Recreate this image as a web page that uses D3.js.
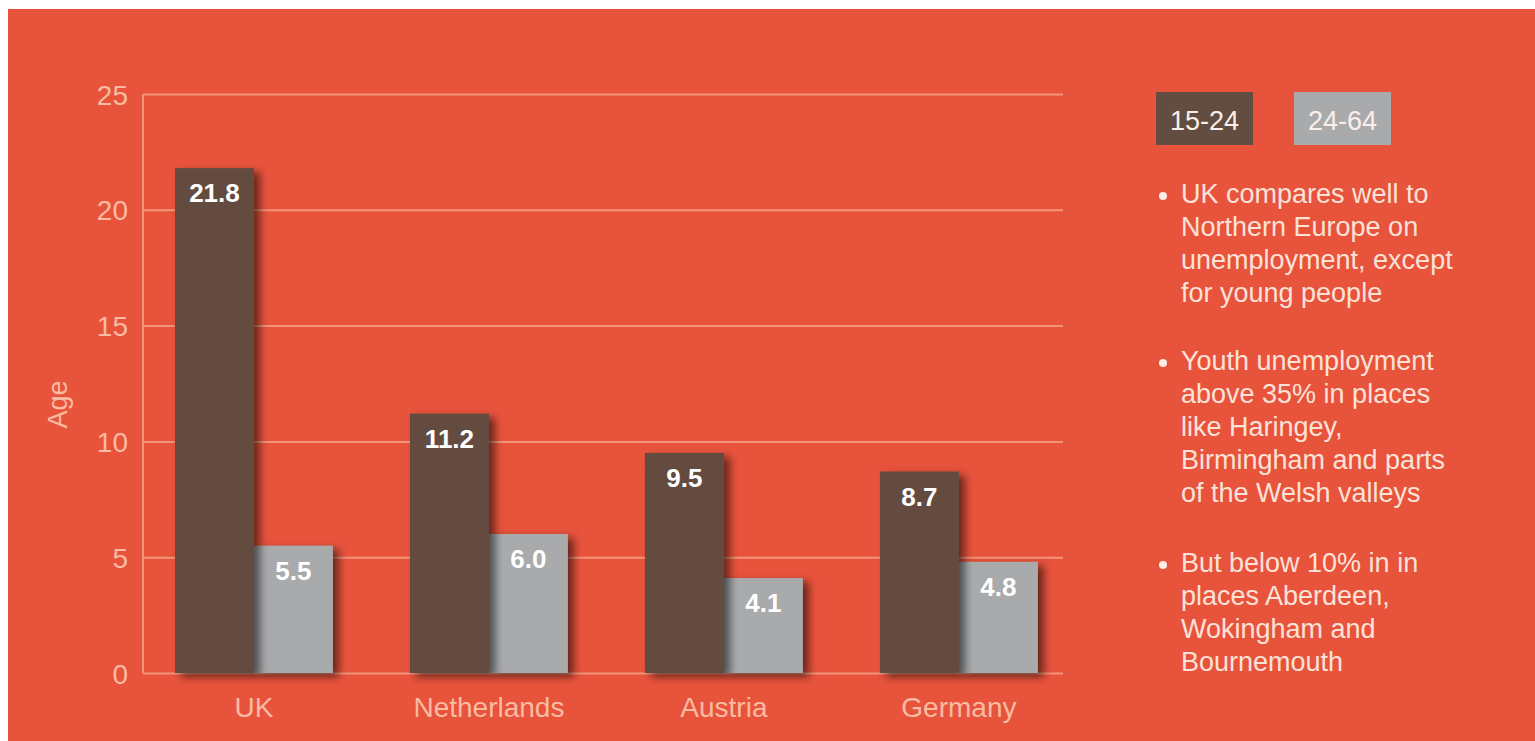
<!DOCTYPE html>
<html>
<head>
<meta charset="utf-8">
<script src="https://cdn.jsdelivr.net/npm/d3@7"></script>
<style>
  html, body { margin: 0; padding: 0; background: #fff; }
  svg { display: block; font-family: "Liberation Sans", Arial, Helvetica, sans-serif; }
</style>
</head>
<body>
<div id="chart"></div>
<script>
const countries = ['UK', 'Netherlands', 'Austria', 'Germany'];
const ages = ['15-24', '24-64'];
const youth = [21.8, 11.2, 9.5, 8.7];
const adult = [5.5, 6.0, 4.1, 4.8];
const yTicks = [0, 5, 10, 15, 20, 25];
const yLabel = 'Age';
const notes = [
  ['UK compares well to', 'Northern Europe on', 'unemployment, except', 'for young people'],
  ['Youth unemployment', 'above 35% in places', 'like Haringey,', 'Birmingham and parts', 'of the Welsh valleys'],
  ['But below 10% in in', 'places Aberdeen,', 'Wokingham and', 'Bournemouth']
];

const W = 1535, H = 741;
const margin = { top: 94, left: 143 };
const width = 920, height = 579;

const bg = '#e8533c';
const grid = '#f29479';
const tickCol = '#f9bba2';
const color = d3.scaleOrdinal().domain(ages).range(['#634c40', '#a9aaac']);

const svg = d3.select('#chart').append('svg')
  .attr('width', W).attr('height', H);

const defs = svg.append('defs');
const f = defs.append('filter').attr('id', 'shadow')
  .attr('x', '-20%').attr('y', '-10%').attr('width', '150%').attr('height', '130%');
f.append('feDropShadow').attr('dx', 6).attr('dy', 4).attr('stdDeviation', 4.5)
  .attr('flood-color', '#000').attr('flood-opacity', 0.55);

svg.append('rect').attr('x', 8).attr('y', 9).attr('width', W - 8).attr('height', H - 9).attr('fill', bg);

const g = svg.append('g').attr('transform', 'translate(' + margin.left + ',' + margin.top + ')');

const y = d3.scaleLinear().domain([0, 25]).range([height, 0]);
const x0 = d3.scaleBand().domain(countries).range([0, width])
  .paddingInner(0.328).paddingOuter(0.1215).align(0.56);
const x1 = d3.scaleBand().domain(ages).range([0, x0.bandwidth()]);

// grid + y axis
const yAxis = g.append('g').attr('class', 'y axis')
  .call(d3.axisLeft(y).tickValues(yTicks).tickSize(-width).tickPadding(15));
yAxis.select('.domain').remove();
yAxis.selectAll('.tick line').attr('stroke', grid).attr('stroke-width', 2);
yAxis.selectAll('.tick text').attr('fill', tickCol).attr('font-size', 28).attr('dy', '0.36em');
g.append('line').attr('x1', 0).attr('x2', 0).attr('y1', 0).attr('y2', height)
  .attr('stroke', grid).attr('stroke-width', 2);

g.append('text')
  .attr('transform', 'translate(-76,' + (height / 2 + 21) + ') rotate(-90)')
  .attr('text-anchor', 'middle')
  .attr('fill', tickCol).attr('font-size', 27)
  .text(yLabel);

// bars
const rows = countries.map(function (c, i) {
  return { country: c, values: [{ age: ages[0], v: youth[i] }, { age: ages[1], v: adult[i] }] };
});

const groups = g.selectAll('.country').data(rows).enter().append('g')
  .attr('class', 'country')
  .attr('transform', function (d) { return 'translate(' + x0(d.country) + ',0)'; });

// grey first so the dark bar's shadow falls on it
groups.each(function (d) {
  const sel = d3.select(this);
  const ordered = [d.values[1], d.values[0]];
  sel.selectAll('rect').data(ordered).enter().append('rect')
    .attr('x', function (e) { return x1(e.age); })
    .attr('y', function (e) { return y(e.v); })
    .attr('width', x1.bandwidth())
    .attr('height', function (e) { return height - y(e.v); })
    .attr('fill', function (e) { return color(e.age); })
    .attr('filter', 'url(#shadow)');
  sel.selectAll('.val').data(d.values).enter().append('text')
    .attr('class', 'val')
    .attr('x', function (e) { return x1(e.age) + x1.bandwidth() / 2; })
    .attr('y', function (e) { return y(e.v) + 34; })
    .attr('text-anchor', 'middle')
    .attr('fill', '#fff').attr('font-weight', 'bold').attr('font-size', 26)
    .text(function (e) { return e.v.toFixed(1); });
});

// x labels
g.selectAll('.xlabel').data(countries).enter().append('text')
  .attr('class', 'xlabel')
  .attr('x', function (d) { return x0(d) + x0.bandwidth() / 2; })
  .attr('y', height + 44)
  .attr('text-anchor', 'middle')
  .attr('fill', tickCol).attr('font-size', 28)
  .text(function (d) { return d; });

// legend
const legend = svg.append('g').attr('transform', 'translate(1156,92)');
legend.selectAll('rect').data(ages).enter().append('rect')
  .attr('x', function (d, i) { return i * 138; })
  .attr('width', 97).attr('height', 53)
  .attr('fill', function (d) { return color(d); });
legend.selectAll('text').data(ages).enter().append('text')
  .attr('x', function (d, i) { return i * 138 + 48.5; })
  .attr('y', 38)
  .attr('text-anchor', 'middle')
  .attr('fill', '#fbefe9').attr('font-size', 27)
  .text(function (d) { return d; });

// notes
const noteTop = [203, 370, 572];
const notesG = svg.append('g');
notes.forEach(function (lines, i) {
  notesG.append('circle').attr('cx', 1163).attr('cy', noteTop[i] - 7).attr('r', 4).attr('fill', '#fdeee8');
  const t = notesG.append('text').attr('fill', '#fbe2d8').attr('font-size', 27);
  lines.forEach(function (l, j) {
    t.append('tspan').attr('x', 1181).attr('y', noteTop[i] + j * 33).text(l);
  });
});
</script>
</body>
</html>
